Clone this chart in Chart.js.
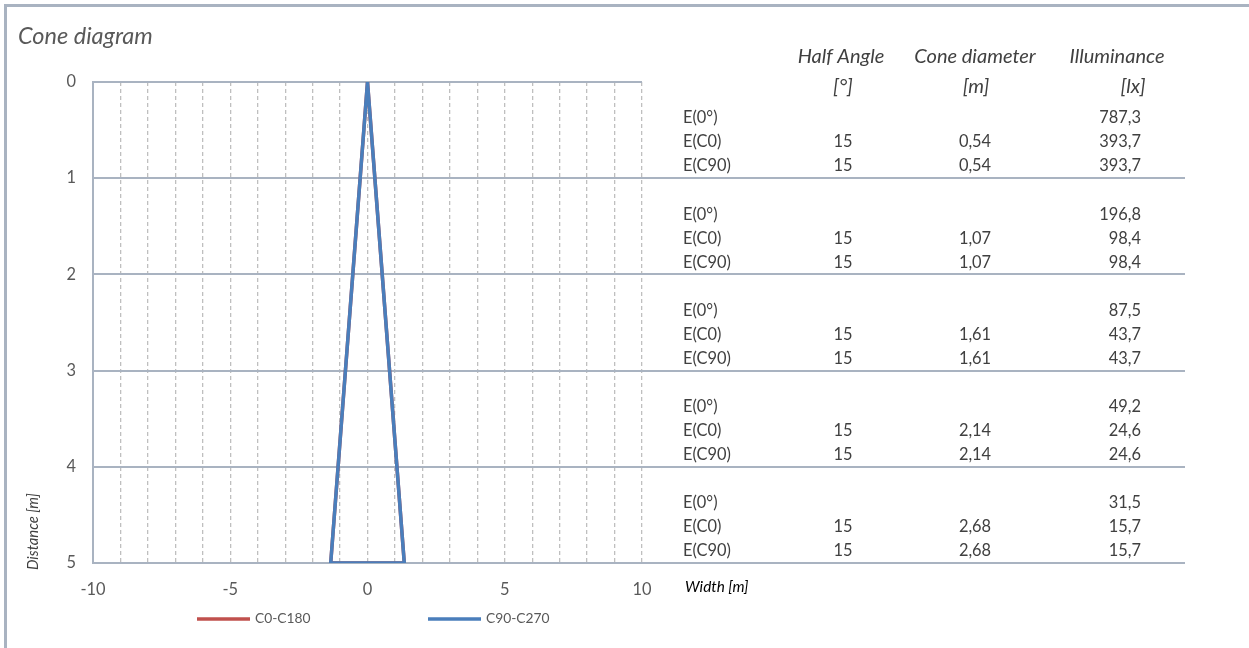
<!DOCTYPE html>
<html>
<head>
<meta charset="utf-8">
<script src="https://cdn.jsdelivr.net/npm/chart.js@4.4.1/dist/chart.umd.min.js"></script>
<style>
html, body { margin: 0; padding: 0; background: #fff; overflow: hidden; }
#marco { position: absolute; left: 4px; top: 4px; width: 1300px; height: 700px; border-left: 3px solid #a9b3c1; border-top: 3px solid #a9b3c1; }
#caja { position: absolute; left: 0; top: 0; width: 1249px; height: 648px; }
</style>
</head>
<body>
<div id="marco"></div>
<div id="caja"><canvas id="cono"></canvas></div>
<script>
var cone_x = [0, 1.34, -1.34, 0];
var cone_y = [0, 5, 5, 0];
var series_names = ['C0-C180', 'C90-C270'];
var x_labels = [-10, -5, 0, 5, 10];

var row_names = ['E(0°)', 'E(C0)', 'E(C90)'];
var distances = [1, 2, 3, 4, 5];
var half_angle = ['15', '15', '15', '15', '15'];
var diameters = ['0,54', '1,07', '1,61', '2,14', '2,68'];
var e_0 = ['787,3', '196,8', '87,5', '49,2', '31,5'];
var e_c0 = ['393,7', '98,4', '43,7', '24,6', '15,7'];
var e_c90 = ['393,7', '98,4', '43,7', '24,6', '15,7'];

var fuente = 'Lato, "Open Sans", sans-serif';
var gris_linea = '#a9b3c1';

function cone_points() {
    var pts = [];
    for (var i = 0; i < cone_x.length; i++) {
        pts.push({ x: cone_x[i], y: cone_y[i] });
    }
    return pts;
}

function texto(ctx, str, x, y, font, color, align) {
    ctx.font = font;
    ctx.fillStyle = color;
    ctx.textAlign = align;
    ctx.textBaseline = 'middle';
    ctx.fillText(str, x, y);
}

var extras = {
    id: 'extras',
    afterDraw: function (chart) {
        var ctx = chart.ctx;
        var area = chart.chartArea;
        var ys = chart.scales.y;
        ctx.save();

        texto(ctx, 'Cone diagram', 18, 36, 'italic 23.5px ' + fuente, '#595959', 'left');

        // table header
        var hfont = 'italic 20px ' + fuente;
        texto(ctx, 'Half Angle', 841, 57, hfont, '#404040', 'center');
        texto(ctx, '[°]', 843, 87, hfont, '#404040', 'center');
        texto(ctx, 'Cone diameter', 975, 57, hfont, '#404040', 'center');
        texto(ctx, '[m]', 976, 87, hfont, '#404040', 'center');
        texto(ctx, 'Illuminance', 1117, 57, hfont, '#404040', 'center');
        texto(ctx, '[lx]', 1133, 87, hfont, '#404040', 'center');

        var bfont = '16.4px ' + fuente;
        for (var g = 0; g < distances.length; g++) {
            var base = ys.getPixelForValue(distances[g]);
            var rows = [
                [row_names[0], '', '', e_0[g]],
                [row_names[1], half_angle[g], diameters[g], e_c0[g]],
                [row_names[2], half_angle[g], diameters[g], e_c90[g]]
            ];
            for (var r = 0; r < rows.length; r++) {
                var yy = base - 60 + r * 24;
                texto(ctx, rows[r][0], 683, yy, bfont, '#404040', 'left');
                texto(ctx, rows[r][1], 843, yy, bfont, '#404040', 'center');
                texto(ctx, rows[r][2], 975, yy, bfont, '#404040', 'center');
                texto(ctx, rows[r][3], 1141, yy, bfont, '#404040', 'right');
            }
            ctx.strokeStyle = gris_linea;
            ctx.lineWidth = 2;
            ctx.beginPath();
            ctx.moveTo(area.right, Math.round(base));
            ctx.lineTo(1185, Math.round(base));
            ctx.stroke();
        }

        texto(ctx, 'Width [m]', 685, 587, 'italic 15.3px ' + fuente, '#000', 'left');

        ctx.save();
        ctx.translate(33, 570);
        ctx.rotate(-Math.PI / 2);
        texto(ctx, 'Distance [m]', 0, 0, 'italic 14.8px ' + fuente, '#404040', 'left');
        ctx.restore();

        // legend
        var lx = 197;
        chart.data.datasets.forEach(function (ds, i) {
            var x0 = lx + i * 231;
            ctx.strokeStyle = ds.borderColor;
            ctx.lineWidth = 3.5;
            ctx.beginPath();
            ctx.moveTo(x0, 619);
            ctx.lineTo(x0 + 53, 619);
            ctx.stroke();
            texto(ctx, ds.label, x0 + 58, 619, '13.8px ' + fuente, '#595959', 'left');
        });
        ctx.restore();
    }
};

var chart_cono = new Chart(document.getElementById('cono').getContext('2d'), {
    type: 'scatter',
    data: {
        datasets: [{
            label: series_names[0],
            data: cone_points(),
            borderColor: '#c0504d',
            backgroundColor: '#c0504d',
            borderWidth: 3.5,
            showLine: true,
            pointRadius: 0,
            order: 2
        }, {
            label: series_names[1],
            data: cone_points(),
            borderColor: '#4a7ebb',
            backgroundColor: '#4a7ebb',
            borderWidth: 3.5,
            showLine: true,
            pointRadius: 0,
            order: 1
        }]
    },
    options: {
        responsive: true,
        maintainAspectRatio: false,
        animation: false,
        layout: { padding: { left: 0, top: 82, right: 607, bottom: 0 } },
        plugins: {
            legend: { display: false },
            tooltip: { enabled: false }
        },
        scales: {
            x: {
                type: 'linear',
                min: -10,
                max: 10,
                afterFit: function (s) { s.height = 85; },
                ticks: {
                    stepSize: 1,
                    autoSkip: false,
                    maxRotation: 0,
                    padding: 17,
                    color: '#595959',
                    font: { family: fuente, size: 16.4 },
                    callback: function (v) { return x_labels.indexOf(v) >= 0 ? String(v) : ''; }
                },
                grid: {
                    drawTicks: false,
                    lineWidth: 1.3,
                    color: function (c) { return c.tick && c.tick.value === -10 ? 'transparent' : '#bfbfbf'; }
                },
                border: { display: false, dash: [4, 3] }
            },
            y: {
                type: 'linear',
                min: 0,
                max: 5,
                reverse: true,
                afterFit: function (s) { s.width = 93; },
                ticks: {
                    stepSize: 1,
                    padding: 17,
                    color: '#595959',
                    font: { family: fuente, size: 16.4 }
                },
                grid: { drawTicks: false, lineWidth: 2, color: gris_linea },
                border: { display: true, color: gris_linea, width: 2 }
            }
        }
    },
    plugins: [extras]
});
</script>
</body>
</html>
